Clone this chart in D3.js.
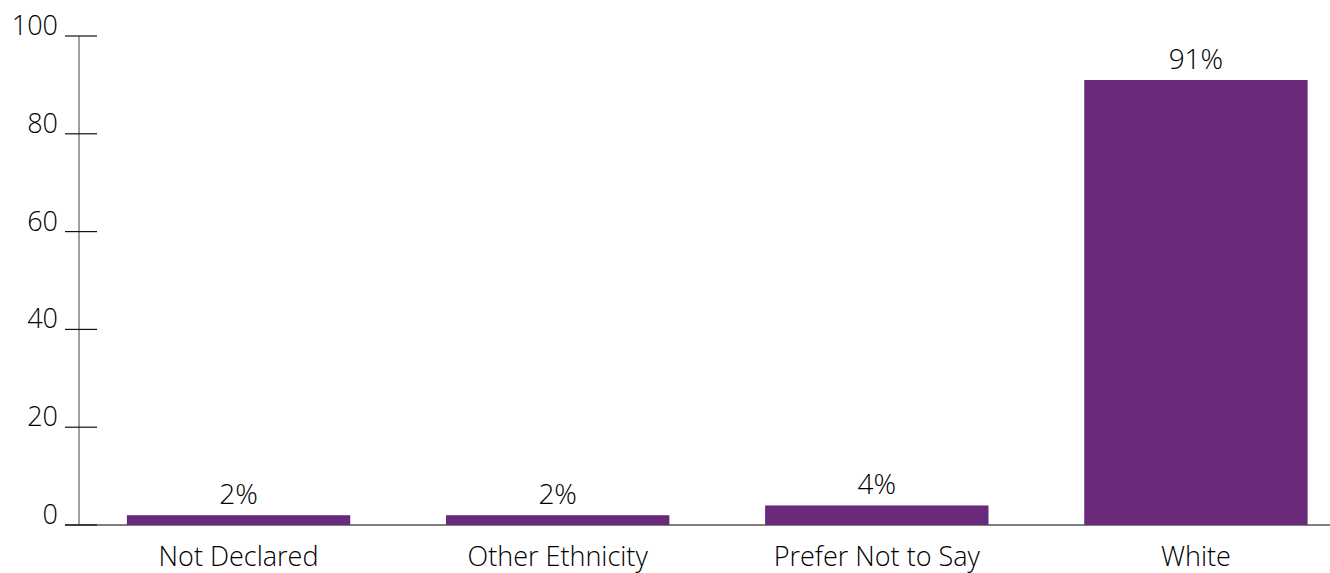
<!DOCTYPE html>
<html>
<head>
<meta charset="utf-8">
<script src="https://cdn.jsdelivr.net/npm/d3@7"></script>
<style>
  html, body { margin: 0; padding: 0; background: #fff; }
  svg { display: block; }
  text { font-family: "Open Sans", "Noto Sans", sans-serif; font-weight: 300; fill: #000; }
</style>
</head>
<body>
<svg id="chart" width="1330" height="573"></svg>
<script>
// Ethnicity breakdown, percentage of respondents
const categories = ["Not Declared", "Other Ethnicity", "Prefer Not to Say", "White"];
const values = [2, 2, 4, 91];
const yTicks = [0, 20, 40, 60, 80, 100];

const svg = d3.select("#chart");
const W = 1330, H = 573;
const axisX = 79, y0 = 525, yTop = 36;

const x = d3.scaleBand()
  .domain(categories)
  .range([axisX, 1355.5])
  .paddingInner(0.3)
  .paddingOuter(0.15);

const y = d3.scaleLinear().domain([0, 100]).range([y0, yTop]);

// vertical axis line
svg.append("line")
  .attr("x1", axisX).attr("x2", axisX)
  .attr("y1", y(100)).attr("y2", y(0))
  .attr("stroke", "#808080").attr("stroke-width", 1.5);

// baseline
svg.append("line")
  .attr("x1", 65).attr("x2", W)
  .attr("y1", y(0)).attr("y2", y(0))
  .attr("stroke", "#555").attr("stroke-width", 1.5);

// y ticks and labels
const ticks = svg.append("g");
yTicks.forEach(t => {
  ticks.append("line")
    .attr("x1", 65).attr("x2", 97)
    .attr("y1", y(t)).attr("y2", y(t))
    .attr("stroke", "#111").attr("stroke-width", 1.2);
  ticks.append("text")
    .attr("x", 58).attr("y", y(t) - 1)
    .attr("text-anchor", "end")
    .attr("font-size", 27)
    .text(t);
});

// bars
svg.append("g").selectAll("rect")
  .data(categories)
  .join("rect")
  .attr("x", d => x(d))
  .attr("width", x.bandwidth())
  .attr("y", (d, i) => y(values[i]))
  .attr("height", (d, i) => y(0) - y(values[i]))
  .attr("fill", "#6a2a7c");

// value labels
svg.append("g").selectAll("text")
  .data(categories)
  .join("text")
  .attr("x", d => x(d) + x.bandwidth() / 2)
  .attr("y", (d, i) => y(values[i]) - 11)
  .attr("text-anchor", "middle")
  .attr("font-size", 28)
  .text((d, i) => values[i] + "%");

// category labels
svg.append("g").selectAll("text")
  .data(categories)
  .join("text")
  .attr("x", d => x(d) + x.bandwidth() / 2)
  .attr("y", 566)
  .attr("text-anchor", "middle")
  .attr("font-size", 27)
  .text(d => d);
</script>
</body>
</html>
